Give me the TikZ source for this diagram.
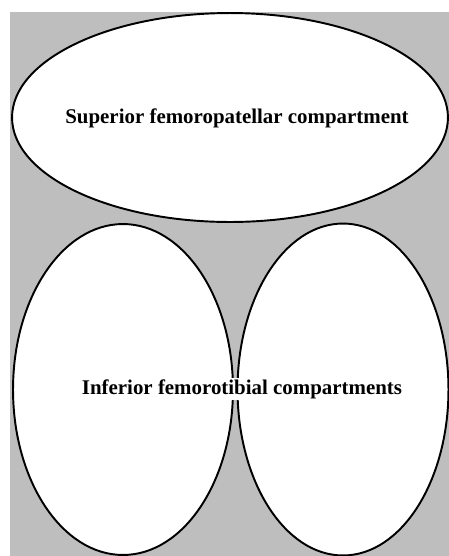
\documentclass[tikz,border=0pt]{standalone}
\usepackage{fontspec}
\setmainfont{Liberation Serif}
\usepackage{xcolor}
\usetikzlibrary{shapes.geometric}
\definecolor{paneGray}{RGB}{190,190,190}
\tikzset{
  compartment/.style={
    ellipse, draw=black, line width=1.1pt, fill=white, inner sep=0pt
  },
  label text/.style={
    font=\fontsize{11.9}{13}\selectfont\bfseries, text=black
  }
}
\begin{document}
\begin{tikzpicture}[x=0.02cm,y=-0.02cm]
  \useasboundingbox (0,0) rectangle (449,556);
  \fill[paneGray] (10,12) rectangle (449,556);
  \begin{scope}[every node/.style={compartment}]
    \node[minimum width=8.72cm, minimum height=4.18cm] (sup) at (230,117.5) {};
    \node[minimum width=4.40cm, minimum height=6.62cm] (infL) at (123,389.5) {};
    \node[minimum width=4.22cm, minimum height=6.64cm] (infR) at (343,389.5) {};
  \end{scope}
  \node[label text] (supText) at (237,118) {Superior femoropatellar compartment};
  \node[label text, fill=white, inner sep=1pt] (infText) at (242,389) {Inferior femorotibial compartments};
\end{tikzpicture}
\end{document}
